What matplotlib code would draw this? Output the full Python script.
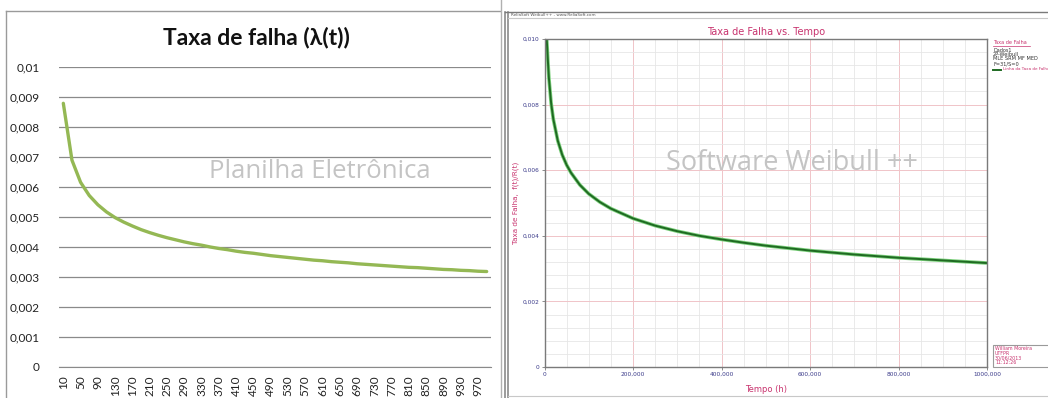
import numpy as np
import matplotlib
matplotlib.use("Agg")
import matplotlib.pyplot as plt
from matplotlib.lines import Line2D
from matplotlib.patches import Rectangle
from matplotlib.ticker import FixedLocator, FixedFormatter, MultipleLocator

# ---------------- dados ----------------
# planilha: categorias 10, 30, ..., 990 h
tempos_planilha = list(range(10, 1000, 20))
taxa_planilha = [0.00880, 0.00690, 0.00616, 0.00572, 0.00541, 0.00517, 0.00498, 0.00483,
                 0.00470, 0.00458, 0.00448, 0.00439, 0.00431, 0.00424, 0.00417, 0.00411,
                 0.00406, 0.00400, 0.00395, 0.00391, 0.00386, 0.00382, 0.00379, 0.00375,
                 0.00371, 0.00368, 0.00365, 0.00362, 0.00359, 0.00356, 0.00354, 0.00351,
                 0.00349, 0.00347, 0.00344, 0.00342, 0.00340, 0.00338, 0.00336, 0.00334,
                 0.00332, 0.00331, 0.00329, 0.00327, 0.00325, 0.00324, 0.00322, 0.00321,
                 0.00319, 0.00318]
yticks_planilha = [0, 0.001, 0.002, 0.003, 0.004, 0.005, 0.006, 0.007, 0.008, 0.009, 0.01]
ylabels_planilha = ['0', '0,001', '0,002', '0,003', '0,004', '0,005', '0,006', '0,007',
                    '0,008', '0,009', '0,01']

# weibull++
tempos_weibull = [5, 8, 10, 15, 20, 30, 40, 50, 60, 80, 100, 125, 150, 200, 250, 300,
                  350, 400, 450, 500, 600, 700, 800, 900, 1000]
taxa_weibull = [0.01000, 0.00925, 0.00880, 0.00804, 0.00755, 0.00690, 0.00647, 0.00616,
                0.00592, 0.00555, 0.00528, 0.00503, 0.00483, 0.00453, 0.00431, 0.00414,
                0.00400, 0.00389, 0.00379, 0.00370, 0.00355, 0.00343, 0.00333, 0.00325,
                0.00317]
xticks_weibull = [0, 200, 400, 600, 800, 1000]
xlabels_weibull = ['0', '200,000', '400,000', '600,000', '800,000', '1000,000']
yticks_weibull = [0, 0.002, 0.004, 0.006, 0.008, 0.010]
ylabels_weibull = ['0', '0,002', '0,004', '0,006', '0,008', '0,010']

W, H = 1048, 398
def fx(x):
    return x / W
def fy(y):
    return 1 - y / H

fig = plt.figure(figsize=(W / 100, H / 100), dpi=100)

def linha(x0, y0, x1, y1, cor='#9a9a9a', lw=1.0):
    fig.add_artist(Line2D([fx(x0), fx(x1)], [fy(y0), fy(y1)], color=cor, lw=lw,
                          transform=fig.transFigure))

# ---------------- painel esquerdo (planilha) ----------------
linha(6, 11, 500, 11, '#9a9a9a', 1.0)
linha(6, 11, 6, 398, '#9a9a9a', 1.0)

ax1 = fig.add_axes([fx(59), fy(366.7), (491 - 59) / W, (366.7 - 67.4) / H])
pos = np.arange(len(tempos_planilha))
ax1.plot(pos, taxa_planilha, color='#94b854', lw=2.4, solid_capstyle='round')
ax1.set_xlim(-0.5, len(tempos_planilha) - 0.5)
ax1.set_ylim(0, 0.01)
ax1.yaxis.set_major_locator(FixedLocator(yticks_planilha))
ax1.yaxis.set_major_formatter(FixedFormatter(ylabels_planilha))
ax1.set_xticks(pos[::2])
ax1.set_xticklabels([str(t) for t in tempos_planilha[::2]], rotation=90)
ax1.grid(axis='y', color='#8a8a8a', lw=0.9)
ax1.set_axisbelow(True)
for s in ['left', 'right', 'top']:
    ax1.spines[s].set_visible(False)
ax1.spines['bottom'].set_color('#8a8a8a')
ax1.tick_params(axis='both', length=0, labelsize=8.5, colors='#222222',
                labelfontfamily='Lato')
ax1.tick_params(axis='y', pad=14)
ax1.tick_params(axis='x', pad=6)

fig.text(fx(256), fy(38), 'Taxa de falha (λ(t))', ha='center', va='center',
         fontsize=16.5, fontweight='bold', family=['Lato', 'DejaVu Sans'], color='#111111')
fig.text(fx(320), fy(172), 'Planilha Eletrônica', ha='center', va='center',
         fontsize=18.5, family='Open Sans', color='#c4c4c4')

# ---------------- painel direito (Weibull++) ----------------
linha(501, 0, 501, 398, '#b0b0b0', 1.0)
linha(505, 12, 505, 398, '#8a8a8a', 1.2)
linha(508, 12, 508, 398, '#8a8a8a', 1.2)
linha(505, 12, 1048, 12, '#7a7a7a', 1.0)
linha(508, 18, 1048, 18, '#c8c8c8', 0.8)
linha(508, 396, 1048, 396, '#c8c8c8', 0.8)
fig.text(fx(511), fy(15), 'ReliaSoft Weibull++ - www.ReliaSoft.com', ha='left', va='center',
         fontsize=3, color='#555555')

ax2 = fig.add_axes([fx(544.5), fy(367), (987 - 544.5) / W, (367 - 39) / H])
ax2.plot(tempos_weibull, taxa_weibull, color='#7cd07c', lw=2.6, solid_capstyle='butt')
ax2.plot(tempos_weibull, taxa_weibull, color='#1f6a22', lw=1.4)
ax2.set_xlim(0, 1000)
ax2.set_ylim(0, 0.010)
ax2.xaxis.set_major_locator(FixedLocator(xticks_weibull))
ax2.xaxis.set_major_formatter(FixedFormatter(xlabels_weibull))
ax2.yaxis.set_major_locator(FixedLocator(yticks_weibull))
ax2.yaxis.set_major_formatter(FixedFormatter(ylabels_weibull))
ax2.xaxis.set_minor_locator(MultipleLocator(50))
ax2.yaxis.set_minor_locator(MultipleLocator(0.0004))
ax2.grid(which='minor', color='#e6e6e6', lw=0.6)
ax2.grid(which='major', color='#f0c4c8', lw=0.7)
ax2.set_axisbelow(True)
for s in ax2.spines.values():
    s.set_color('#7a7a7a')
    s.set_linewidth(1.0)
ax2.tick_params(which='major', length=2, width=0.6, color='#7a7a7a', labelsize=4.2,
                labelcolor='#3b3b8a', pad=1.5)
ax2.tick_params(which='minor', length=0)
ax2.set_title('Taxa de Falha vs. Tempo', fontsize=7, color='#c8336e', pad=3)
ax2.set_xlabel('Tempo (h)', fontsize=6, color='#c8336e', labelpad=6)
ax2.set_ylabel('Taxa de Falha,  f(t)/R(t)', fontsize=5.2, color='#c8336e', labelpad=3)

fig.text(fx(792), fy(163), 'Software Weibull ++', ha='center', va='center',
         fontsize=19.5, family='Open Sans', color='#c4c4c4')

# legenda no canto superior direito
fig.text(fx(993), fy(43), 'Taxa de Falha', ha='left', va='center', fontsize=3.6,
         color='#c8336e')
linha(993, 45.5, 1030, 45.5, '#c8336e', 0.5)
for yy, txt in zip([50, 54.5, 59, 63.5], ['Dados1', '2P-Weibull', 'MLE SRM MF MED', 'F=31/S=0']):
    fig.text(fx(993), fy(yy), txt, ha='left', va='center', fontsize=3.6, color='#333333')
linha(993, 69.5, 1001, 69.5, '#1f6a22', 1.4)
fig.text(fx(1003), fy(69.5), 'Linha da Taxa de Falha', ha='left', va='center',
         fontsize=3.0, color='#c8336e')

# caixa do autor
fig.add_artist(Rectangle((fx(993), fy(367)), fx(60), (367 - 345) / H, transform=fig.transFigure,
                         facecolor='white', edgecolor='#9a9a9a', lw=0.8))
for yy, txt in zip([349, 353.5, 358.5, 363], ['William Moreira', 'UTFPR', '30/06/2013', '11:12:26']):
    fig.text(fx(995), fy(yy), txt, ha='left', va='center', fontsize=3.4, color='#c8336e')

fig.savefig('out.png', dpi=100)
